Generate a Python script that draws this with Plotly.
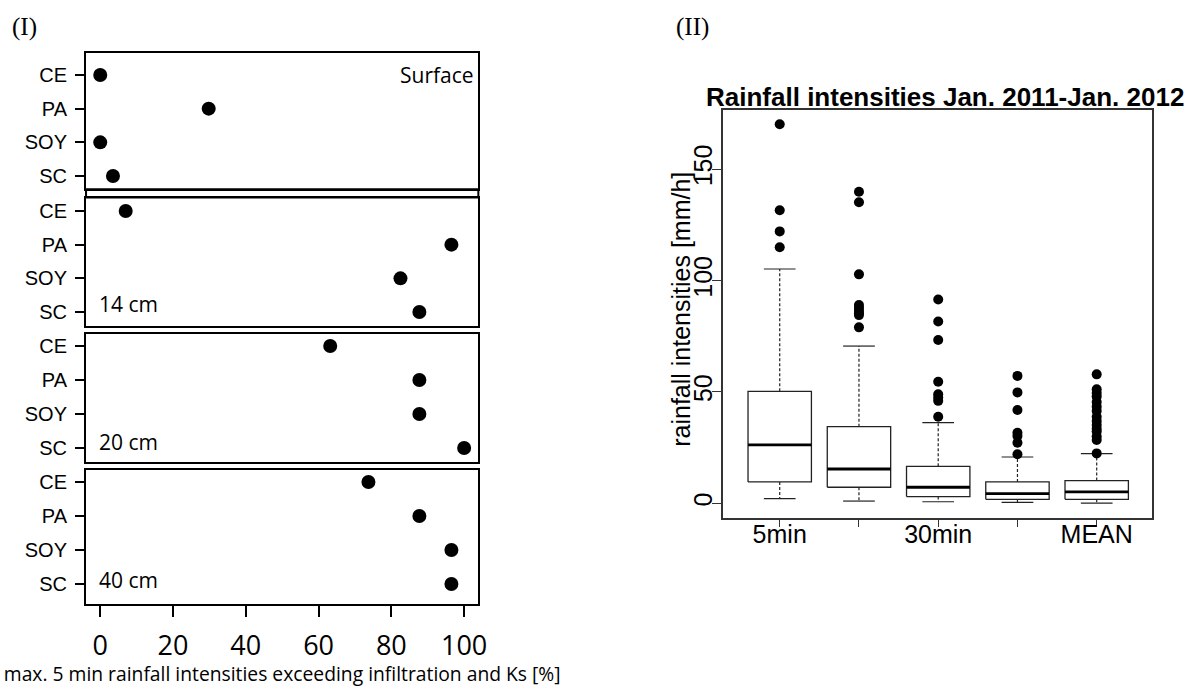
import plotly.graph_objects as go

# ---------------- data ----------------
# Panel I
crops = ["CE", "PA", "SOY", "SC"]
depths = ["Surface", "14 cm", "20 cm", "40 cm"]
pct_surface = [0.0, 29.8, 0.0, 3.5]
pct_14cm = [7.0, 96.5, 82.5, 87.7]
pct_20cm = [63.2, 87.7, 87.7, 100.0]
pct_40cm = [73.7, 87.7, 96.5, 96.5]
x_ticks_I = [0, 20, 40, 60, 80, 100]

# Panel II (box statistics, mm/h)
intervals = ["5min", "10min", "30min", "60min", "MEAN"]
interval_ticktext = ["5min", "", "30min", "", "MEAN"]
whisk_low = [2.1, 1.0, 0.7, 0.4, 0.1]
q1 = [9.6, 7.2, 3.0, 1.8, 1.8]
median = [26.2, 15.4, 7.2, 4.3, 5.1]
q3 = [50.3, 34.4, 16.6, 9.6, 10.2]
whisk_high = [105.2, 70.6, 36.2, 20.8, 22.3]
outliers = [
    [170.2, 131.6, 122.1, 115.0],
    [139.9, 135.2, 102.8, 89.0, 87.8, 86.5, 85.3, 84.5, 79.0],
    [91.5, 81.6, 73.3, 54.6, 49.0, 47.5, 46.0, 38.9],
    [57.2, 49.8, 41.9, 31.7, 30.2, 27.2, 22.0],
    [57.9, 51.2, 49.5, 47.9, 45.5, 43.4, 41.5, 38.9, 37.0, 35.2, 33.5, 32.2, 30.0, 28.4, 22.4],
]
y_ticks_II = [0, 50, 100, 150]

# ---------------- layout helpers ----------------
W, H = 1184, 687


def px_x(p):
    return p / W


def px_y(p):
    return 1 - p / H


fig = go.Figure()

# Panel I subplots
panel_series = [pct_surface, pct_14cm, pct_20cm, pct_40cm]
panel_pix = [(53, 189), (198, 326), (334, 462), (470, 604)]
panel_ranges = [[0.614, 4.653], [0.585, 4.386], [0.588, 4.353], [0.412, 4.353]]
ypos = [len(crops) - i for i in range(len(crops))]

xdom_I = [px_x(86.7), px_x(482)]
font_arial = "Liberation Sans, Arial, sans-serif"
font_open = "Open Sans, sans-serif"

for k, vals in enumerate(panel_series):
    idx = "" if k == 0 else str(k + 1)
    fig.add_trace(go.Scatter(
        x=vals, y=ypos, mode="markers",
        marker=dict(color="black", size=14),
        xaxis="x" + idx, yaxis="y" + idx, showlegend=False,
        hoverinfo="x+text", text=crops,
    ))
    top, bot = panel_pix[k]
    last = (k == len(panel_series) - 1)
    fig.layout["xaxis" + idx] = dict(
        domain=xdom_I, anchor="y" + idx, range=[-3.9, 103.9],
        showline=True, mirror=True, linecolor="black", linewidth=2,
        showgrid=False, zeroline=False,
        ticks="outside" if last else "", ticklen=11, tickwidth=2, tickcolor="black",
        tickvals=x_ticks_I, showticklabels=last,
        tickfont=dict(family=font_open, size=27, color="black"),
        ticklabelstandoff=6,
        title=dict(
            text="max. 5 min rainfall intensities exceeding infiltration and Ks [%]" if last else "",
            font=dict(family=font_open, size=19.3, color="black"), standoff=8),
    )
    fig.layout["yaxis" + idx] = dict(
        domain=[px_y(bot), px_y(top)], anchor="x" + idx, range=panel_ranges[k],
        showline=True, mirror=True, linecolor="black", linewidth=2,
        showgrid=False, zeroline=False,
        ticks="outside", ticklen=9, tickwidth=2, tickcolor="black",
        tickvals=ypos, ticktext=crops,
        tickfont=dict(family=font_arial, size=20, color="black"),
        ticklabelstandoff=4,
    )

# depth labels
fig.add_annotation(x=px_x(480), y=px_y(75), xref="paper", yref="paper", text=depths[0],
                   showarrow=False, xanchor="right", yanchor="middle",
                   font=dict(family=font_open, size=21, color="black"))
for k, yy in zip([1, 2, 3], [304, 442, 580]):
    fig.add_annotation(x=px_x(98), y=px_y(yy), xref="paper", yref="paper", text=depths[k],
                       showarrow=False, xanchor="left", yanchor="middle",
                       font=dict(family=font_open, size=21, color="black"))

# thin strip between surface and 14 cm panels
fig.add_shape(type="rect", xref="paper", yref="paper",
              x0=xdom_I[0], x1=xdom_I[1], y0=px_y(197.5), y1=px_y(189.3),
              line=dict(color="black", width=2), fillcolor="rgba(0,0,0,0)")

# Panel II boxplots drawn from statistics
pos = list(range(1, len(intervals) + 1))
bw = 0.4
cap = 0.2
for i, p in enumerate(pos):
    for a, b in [(q3[i], whisk_high[i]), (q1[i], whisk_low[i])]:
        fig.add_trace(go.Scatter(x=[p, p], y=[a, b], mode="lines",
                                 line=dict(color="#222", width=1.2, dash="3px,2px"),
                                 xaxis="x5", yaxis="y5", showlegend=False, hoverinfo="skip"))
    for v in [whisk_high[i], whisk_low[i]]:
        fig.add_trace(go.Scatter(x=[p - cap, p + cap], y=[v, v], mode="lines",
                                 line=dict(color="#222", width=1.2),
                                 xaxis="x5", yaxis="y5", showlegend=False, hoverinfo="skip"))
    fig.add_trace(go.Scatter(x=[p - bw, p + bw, p + bw, p - bw, p - bw],
                             y=[q1[i], q1[i], q3[i], q3[i], q1[i]], mode="lines",
                             line=dict(color="#222", width=1.3), fill="toself",
                             fillcolor="white",
                             xaxis="x5", yaxis="y5", showlegend=False, name=intervals[i]))
    fig.add_trace(go.Scatter(x=[p - bw, p + bw], y=[median[i], median[i]], mode="lines",
                             line=dict(color="black", width=2.8),
                             xaxis="x5", yaxis="y5", showlegend=False, hoverinfo="skip"))
    fig.add_trace(go.Scatter(x=[p] * len(outliers[i]), y=outliers[i], mode="markers",
                             marker=dict(color="black", size=10),
                             xaxis="x5", yaxis="y5", showlegend=False, name=intervals[i]))

fig.layout["xaxis5"] = dict(
    domain=[px_x(729), px_x(1161)], anchor="y5", range=[0.29, 5.70],
    showline=True, mirror=True, linecolor="#333", linewidth=1.5,
    showgrid=False, zeroline=False,
    ticks="outside", ticklen=7, tickwidth=1.2, tickcolor="#333",
    tickvals=pos, ticktext=interval_ticktext,
    tickfont=dict(family=font_arial, size=25, color="black"),
    ticklabelstandoff=-14,
)
fig.layout["yaxis5"] = dict(
    domain=[px_y(518), px_y(110)], anchor="x5", range=[-6.6, 176.6],
    showline=True, mirror=True, linecolor="#333", linewidth=1.5,
    showgrid=False, zeroline=False,
    ticks="outside", ticklen=10, tickwidth=1.2, tickcolor="#333",
    tickvals=y_ticks_II, tickangle=-90,
    tickfont=dict(family=font_arial, size=25, color="black"),
    ticklabelstandoff=-10,
)

fig.add_annotation(x=px_x(686), y=px_y(309), xref="paper", yref="paper",
                   text="rainfall intensities [mm/h]", textangle=-90,
                   showarrow=False, xanchor="center", yanchor="middle",
                   font=dict(family=font_arial, size=25, color="black"))

fig.add_annotation(x=px_x(952), y=px_y(97), xref="paper", yref="paper",
                   text="<b>Rainfall intensities Jan. 2011-Jan. 2012</b>",
                   showarrow=False, xanchor="center", yanchor="middle",
                   font=dict(family=font_arial, size=26, color="black"))

# panel tags
fig.add_annotation(x=px_x(10), y=px_y(27), xref="paper", yref="paper", text="(I)",
                   showarrow=False, xanchor="left", yanchor="middle",
                   font=dict(family="Liberation Serif, Times New Roman, serif", size=25, color="black"))
fig.add_annotation(x=px_x(679), y=px_y(27), xref="paper", yref="paper", text="(II)",
                   showarrow=False, xanchor="left", yanchor="middle",
                   font=dict(family="Liberation Serif, Times New Roman, serif", size=25, color="black"))

fig.update_layout(
    width=W, height=H, margin=dict(l=0, r=0, t=0, b=0),
    paper_bgcolor="white", plot_bgcolor="white", showlegend=False,
)

fig.write_html("out.html")
